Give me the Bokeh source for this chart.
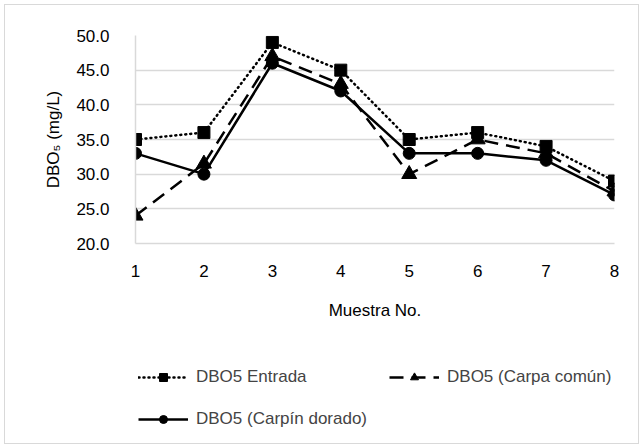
from bokeh.plotting import figure
from bokeh.models import Legend, LegendItem, FixedTicker, Range1d, CustomJSTickFormatter
from bokeh.layouts import column
from bokeh.embed import file_html
from bokeh.resources import INLINE

muestras = [1, 2, 3, 4, 5, 6, 7, 8]
entrada = [35, 36, 49, 45, 35, 36, 34, 29]
carpa_comun = [24, 31.5, 47, 43, 30, 35, 33, 27.5]
carpin_dorado = [33, 30, 46, 42, 33, 33, 32, 27]
y_ticks = [20, 25, 30, 35, 40, 45, 50]
series_names = ["DBO5 Entrada", "DBO5 (Carpa común)", "DBO5 (Carpín dorado)"]

FONT = "Liberation Sans"
FS = "17px"

p = figure(frame_width=479, frame_height=208, output_backend="svg", toolbar_location=None,
           x_range=Range1d(1, 8), y_range=Range1d(20, 50),
           min_border_left=130, min_border_right=24, min_border_top=30,
           min_border_bottom=97)
p.outline_line_color = None
p.xgrid.grid_line_color = None
p.ygrid.grid_line_color = "#d9d9d9"
p.ygrid.grid_line_width = 1.5

p.yaxis.ticker = FixedTicker(ticks=y_ticks)
p.xaxis.ticker = FixedTicker(ticks=muestras)
p.yaxis.formatter = CustomJSTickFormatter(code="return tick.toFixed(1);")

for ax in (p.xaxis, p.yaxis):
    ax.major_tick_line_color = None
    ax.minor_tick_line_color = None
    ax.major_label_text_font = FONT
    ax.major_label_text_font_size = FS
    ax.major_label_text_color = "#000000"
    ax.axis_label_text_font = FONT
    ax.axis_label_text_font_size = FS
    ax.axis_label_text_font_style = "normal"
    ax.axis_label_text_color = "#000000"
p.yaxis.axis_line_color = "#d9d9d9"
p.yaxis.axis_line_width = 1.5
p.xaxis.axis_line_color = "#d9d9d9"
p.xaxis.axis_line_width = 1.5
p.yaxis.major_label_standoff = 20
p.xaxis.major_label_standoff = 15
p.xaxis.axis_label = "Muestra No."
p.yaxis.axis_label = "DBO\u2085 (mg/L)"
p.xaxis.axis_label_standoff = 21
p.yaxis.axis_label_standoff = 10

lw = 2.5
styles = [
    dict(line_dash="1 4", line_cap="round", marker="square", size=12),
    dict(line_dash="14 8", line_cap="butt", marker="triangle", size=15),
    dict(line_dash="solid", line_cap="butt", marker="circle", size=12),
]
all_series = [entrada, carpa_comun, carpin_dorado]
for vals, st in zip(all_series, styles):
    p.line(muestras, vals, line_color="black", line_width=lw, line_dash=st["line_dash"], line_cap=st["line_cap"])
    p.scatter(muestras, vals, marker=st["marker"], size=st["size"], color="black")

# legend strip below the chart (its renderers lie outside its visible range)
lg = figure(width=633, height=103, output_backend="svg", toolbar_location=None,
            x_range=Range1d(100, 101), y_range=Range1d(100, 101),
            min_border=0, x_axis_type=None, y_axis_type=None)
lg.outline_line_color = None
lg.grid.grid_line_color = None
items = []
for name, vals, st in zip(series_names, all_series, styles):
    r1 = lg.line(muestras, vals, line_color="black", line_width=lw, line_dash=st["line_dash"], line_cap=st["line_cap"])
    r2 = lg.scatter(muestras, vals, marker=st["marker"], size=st["size"] - 1, color="black")
    items.append(LegendItem(label=name, renderers=[r1, r2]))

legend = Legend(items=items, ncols=2, orientation="horizontal")
legend.label_text_font = FONT
legend.label_text_font_size = FS
legend.glyph_width = 50
legend.glyph_height = 20
legend.label_standoff = 8
legend.spacing = 22
legend.border_line_color = None
legend.background_fill_alpha = 0
legend.margin = 0
legend.padding = 0
legend.location = (3, 14)
lg.add_layout(legend, "center")

layout = column(p, lg, spacing=0,
                styles={"margin-left": "5px", "margin-top": "5px",
                        "outline": "1px solid #d9d9d9"})

open("out.html", "w").write(file_html(layout, INLINE))
